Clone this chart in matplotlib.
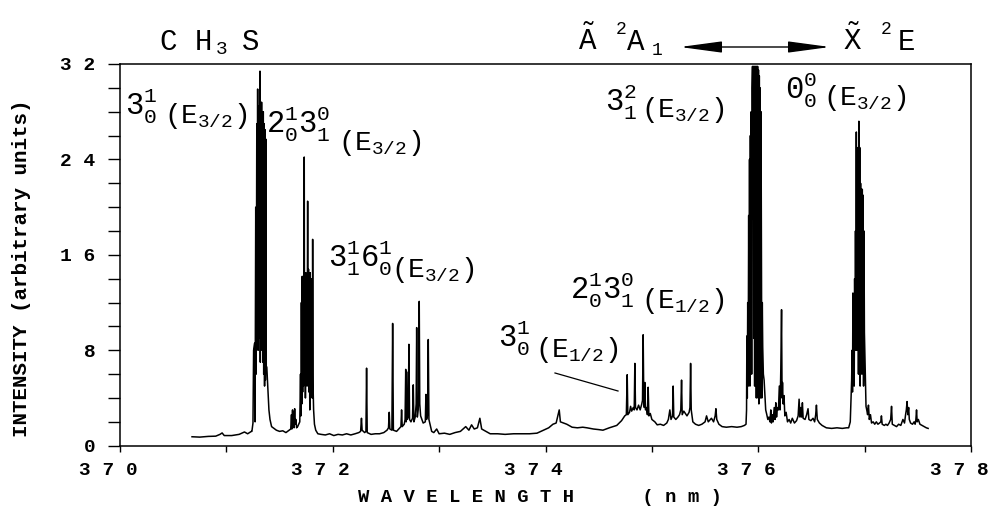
import matplotlib.pyplot as plt
from matplotlib.lines import Line2D
from matplotlib.ticker import MultipleLocator
from matplotlib.transforms import ScaledTranslation

# typewriter look of the scanned figure
plt.rcParams['font.family'] = ['Liberation Mono', 'DejaVu Sans Mono']
plt.rcParams['mathtext.fontset'] = 'custom'
plt.rcParams['mathtext.rm'] = 'Liberation Mono'
plt.rcParams['mathtext.it'] = 'Liberation Mono'
plt.rcParams['mathtext.bf'] = 'Liberation Mono:bold'

# ---- spectrum: (wavelength nm, intensity) ----
seg_start = [(370.677, 0.75), (370.75, 0.72), (370.83, 0.78), (370.90, 0.80), (370.94, 0.95),
             (370.96, 1.07), (370.98, 0.85), (371.05, 0.85), (371.12, 0.95), (371.17, 1.15),
             (371.20, 1.0), (371.235, 1.2)]

band_3_0_1_e32 = [(371.240, 1.2), (371.250, 1.9), (371.256, 8.0), (371.266, 8.6), (371.270, 2.0),
                  (371.276, 20.0), (371.280, 6.0), (371.286, 27.0), (371.290, 9.0), (371.294, 29.9),
                  (371.298, 8.0), (371.302, 28.5), (371.306, 12.0), (371.310, 27.5), (371.313, 9.0),
                  (371.316, 31.4), (371.319, 7.0), (371.323, 28.0), (371.327, 9.0), (371.331, 28.8),
                  (371.335, 8.0), (371.339, 27.0), (371.343, 7.0), (371.347, 28.0), (371.351, 6.0),
                  (371.355, 27.0), (371.359, 5.0), (371.363, 26.5), (371.367, 5.5), (371.371, 25.7),
                  (371.375, 6.6), (371.380, 6.6), (371.386, 5.5), (371.392, 4.4), (371.400, 3.0),
                  (371.410, 2.2), (371.425, 1.6)]

seg_gap1 = [(371.44, 1.5), (371.47, 1.3), (371.50, 1.2), (371.53, 1.25), (371.56, 1.1), (371.59, 1.3),
            (371.605, 1.4), (371.612, 2.6), (371.616, 1.4), (371.622, 3.0), (371.626, 1.6),
            (371.632, 2.8), (371.636, 1.5), (371.642, 3.1), (371.647, 1.8), (371.653, 2.2),
            (371.66, 1.5), (371.67, 1.6), (371.68, 1.8)]

band_2_0_1_3_1_0_e32 = [(371.690, 2.0), (371.697, 6.0), (371.701, 2.5), (371.705, 12.0), (371.709, 3.5),
                        (371.713, 14.2), (371.717, 4.5), (371.721, 13.5), (371.725, 5.0), (371.729, 14.5),
                        (371.732, 24.2), (371.735, 6.0), (371.739, 14.0), (371.743, 4.0), (371.747, 14.5),
                        (371.751, 6.0), (371.755, 13.8), (371.759, 5.0), (371.764, 20.5), (371.768, 6.0),
                        (371.772, 14.8), (371.776, 4.5), (371.780, 14.0), (371.784, 3.0), (371.788, 14.5),
                        (371.792, 4.0), (371.796, 13.5), (371.800, 5.0), (371.804, 14.0), (371.808, 4.0),
                        (371.811, 17.3), (371.815, 5.0), (371.820, 3.0), (371.828, 1.8), (371.840, 1.3),
                        (371.86, 1.0)]

seg_gap2 = [(371.89, 0.95), (371.93, 0.9), (371.97, 1.0), (372.01, 0.85), (372.05, 0.95), (372.09, 0.9),
            (372.13, 1.0), (372.17, 0.9), (372.21, 1.0), (372.245, 1.1)]

band_3_1_1_6_0_1_e32 = [(372.262, 1.2), (372.270, 2.3), (372.276, 1.3), (372.300, 1.1), (372.312, 1.2),
                        (372.318, 6.5), (372.324, 1.1), (372.36, 0.95), (372.40, 1.0), (372.44, 1.0),
                        (372.48, 1.1), (372.51, 1.3), (372.524, 1.5), (372.531, 2.8), (372.537, 1.4),
                        (372.556, 1.3), (372.563, 10.25), (372.570, 1.3), (372.60, 1.2), (372.63, 1.5),
                        (372.641, 1.6), (372.647, 3.0), (372.653, 1.6), (372.672, 1.8), (372.680, 2.2),
                        (372.686, 6.4), (372.690, 2.0), (372.694, 6.2), (372.700, 2.2), (372.710, 2.4),
                        (372.716, 8.5), (372.722, 2.2), (372.735, 2.0), (372.750, 2.3), (372.757, 5.1),
                        (372.763, 2.0), (372.775, 2.4), (372.784, 3.5), (372.789, 9.9), (372.795, 2.4),
                        (372.803, 3.0), (372.808, 4.0), (372.813, 12.1), (372.818, 3.5), (372.826, 2.5),
                        (372.838, 2.2), (372.850, 1.9), (372.870, 2.0), (372.876, 4.3), (372.882, 2.2),
                        (372.892, 2.6), (372.898, 8.9), (372.904, 2.2), (372.914, 1.8), (372.930, 1.2)]

seg_gap3 = [(372.95, 1.1), (372.977, 1.4), (373.00, 1.0), (373.05, 1.05), (373.10, 0.95), (373.15, 1.1),
            (373.20, 1.2), (373.25, 1.6), (373.28, 1.3), (373.305, 1.75), (373.33, 1.4), (373.36, 1.5),
            (373.383, 2.3), (373.40, 1.4), (373.44, 1.2), (373.48, 1.0), (373.55, 1.0), (373.62, 0.95),
            (373.70, 1.0), (373.78, 1.0), (373.85, 1.0), (373.92, 1.05), (373.98, 1.3), (374.03, 1.5),
            (374.07, 1.8), (374.10, 1.9), (374.129, 3.0), (374.14, 2.0), (374.17, 1.9), (374.20, 1.8),
            (374.25, 1.55), (374.30, 1.5), (374.35, 1.55), (374.39, 1.5), (374.45, 1.4), (374.50, 1.35),
            (374.54, 1.3), (374.60, 1.5), (374.67, 1.7), (374.715, 2.1), (374.745, 2.5)]

band_e12 = [(374.760, 2.6), (374.768, 5.95), (374.774, 2.6), (374.790, 2.8), (374.800, 3.3), (374.810, 2.9),
            (374.825, 3.2), (374.834, 3.0), (374.840, 6.9), (374.846, 3.2), (374.860, 3.0), (374.875, 3.4),
            (374.890, 3.0), (374.905, 3.5), (374.912, 3.8), (374.918, 9.3), (374.924, 3.8), (374.929, 3.2),
            (374.934, 5.3), (374.940, 3.0), (374.950, 3.2), (374.958, 2.6), (374.965, 4.9), (374.972, 2.5),
            (374.985, 2.7), (375.000, 2.2), (375.028, 2.0), (375.05, 1.75), (375.08, 1.8), (375.11, 1.7),
            (375.14, 1.9), (375.155, 2.2), (375.169, 3.0), (375.180, 2.2), (375.194, 2.5), (375.200, 5.0),
            (375.206, 2.4), (375.225, 2.2), (375.245, 2.4), (375.260, 2.6), (375.272, 3.0), (375.279, 5.5),
            (375.285, 2.6), (375.300, 2.9), (375.330, 2.5), (375.350, 2.8), (375.358, 3.2), (375.364, 6.9),
            (375.370, 3.0), (375.385, 2.0), (375.41, 1.8), (375.44, 1.7), (375.47, 1.8), (375.50, 2.0),
            (375.514, 2.5), (375.53, 2.0), (375.56, 2.3), (375.58, 2.0), (375.595, 2.5), (375.602, 3.1),
            (375.61, 2.2), (375.63, 1.8), (375.66, 1.6), (375.70, 1.55), (375.75, 1.6), (375.80, 1.55),
            (375.84, 1.6), (375.87, 1.7)]

band_3_1_2_e32 = [(375.885, 1.8), (375.890, 3.0), (375.893, 9.2), (375.897, 4.0), (375.901, 12.0),
                  (375.905, 5.0), (375.910, 19.3), (375.914, 6.0), (375.918, 24.0), (375.922, 5.0),
                  (375.926, 26.0), (375.930, 8.0), (375.934, 28.0), (375.938, 6.0), (375.942, 30.0),
                  (375.946, 31.8), (375.950, 19.0), (375.954, 31.8), (375.958, 9.0), (375.962, 31.8),
                  (375.966, 5.0), (375.970, 31.8), (375.974, 6.0), (375.978, 31.8), (375.982, 4.0),
                  (375.986, 31.8), (375.990, 5.0), (375.994, 31.8), (375.998, 4.0), (376.002, 31.5),
                  (376.006, 3.5), (376.010, 31.0), (376.014, 5.0), (376.018, 30.0), (376.022, 4.0),
                  (376.026, 28.0), (376.030, 15.6), (376.034, 4.0), (376.038, 12.0), (376.042, 8.3),
                  (376.048, 6.0), (376.055, 5.5), (376.062, 4.4), (376.070, 3.0), (376.078, 2.7),
                  (376.090, 2.2), (376.100, 2.4)]

seg_gap4 = [(376.110, 2.0), (376.118, 3.0), (376.124, 1.9), (376.132, 2.6), (376.140, 2.0), (376.150, 3.2),
            (376.158, 2.2), (376.165, 3.6), (376.172, 2.4), (376.180, 3.2), (376.190, 3.0), (376.198, 5.0),
            (376.205, 3.0), (376.212, 6.4), (376.219, 11.4), (376.224, 4.0), (376.228, 5.3), (376.234, 3.5),
            (376.242, 4.2), (376.250, 2.5), (376.262, 2.8), (376.275, 2.0), (376.290, 2.2), (376.305, 1.9),
            (376.320, 2.3), (376.340, 1.9), (376.360, 2.1), (376.375, 2.5), (376.384, 3.9), (376.392, 2.4),
            (376.400, 3.2), (376.408, 2.4), (376.415, 3.6), (376.422, 2.3), (376.440, 2.2), (376.455, 2.6),
            (376.468, 3.1), (376.476, 2.2), (376.495, 2.1), (376.515, 2.3), (376.530, 2.0), (376.540, 2.6),
            (376.547, 3.4), (376.555, 2.2), (376.575, 1.9), (376.600, 1.7), (376.640, 1.5), (376.690, 1.45),
            (376.740, 1.5), (376.790, 1.45), (376.830, 1.5)]

band_0_0_0_e32 = [(376.850, 1.5), (376.865, 2.0), (376.872, 4.0), (376.878, 5.5), (376.882, 8.0),
                  (376.886, 4.5), (376.890, 12.8), (376.894, 6.0), (376.898, 12.5), (376.902, 5.0),
                  (376.906, 14.0), (376.910, 8.0), (376.914, 18.0), (376.918, 9.0), (376.922, 26.3),
                  (376.926, 8.0), (376.930, 24.0), (376.934, 10.0), (376.938, 25.0), (376.942, 6.0),
                  (376.946, 27.2), (376.950, 9.0), (376.954, 25.0), (376.958, 5.0), (376.962, 22.0),
                  (376.966, 7.0), (376.970, 21.5), (376.974, 6.0), (376.978, 21.5), (376.982, 8.0),
                  (376.986, 21.0), (376.990, 5.0), (376.994, 18.0), (376.998, 9.5), (377.002, 7.8),
                  (377.008, 5.0), (377.013, 3.3), (377.020, 3.0)]

seg_end = [(377.028, 2.6), (377.036, 3.4), (377.044, 2.2), (377.055, 2.6), (377.065, 1.9), (377.080, 2.0),
           (377.095, 1.8), (377.110, 2.0), (377.125, 1.8), (377.140, 1.9), (377.152, 2.0), (377.158, 2.5),
           (377.165, 1.8), (377.185, 1.7), (377.200, 1.8), (377.215, 1.7), (377.230, 1.9), (377.245, 2.2),
           (377.253, 3.3), (377.260, 1.8), (377.280, 1.7), (377.300, 1.6), (377.320, 1.8), (377.340, 1.7),
           (377.360, 2.2), (377.375, 1.9), (377.385, 2.6), (377.392, 3.0), (377.399, 3.7), (377.406, 2.6),
           (377.414, 3.2), (377.420, 2.2), (377.432, 1.9), (377.450, 1.8), (377.465, 2.0), (377.475, 1.8),
           (377.482, 2.2), (377.488, 3.0), (377.494, 2.0), (377.505, 2.2), (377.520, 1.8), (377.540, 1.7),
           (377.560, 1.6), (377.580, 1.5), (377.597, 1.45)]

# axis ticks
xtick_values = [370, 371, 372, 373, 374, 375, 376, 377, 378]
xtick_labels = ['3 7 0', '', '3 7 2', '', '3 7 4', '', '3 7 6', '', '3 7 8']
ytick_values = [0, 8, 16, 24, 32]
ytick_labels = ['0', '8', '1 6', '2 4', '3 2']

# band assignments: vibronic code and spin-orbit component
label_codes = [r'$3^1_0$', r'$2^1_0 3^0_1$', r'$3^1_1 6^1_0$', r'$2^1_0 3^0_1$', r'$3^1_0$',
               r'$3^2_1$', r'$0^0_0$']
label_states = [r'$(E_{3/2})$', r'$(E_{3/2})$', r'$(E_{3/2})$', r'$(E_{1/2})$', r'$(E_{1/2})$',
                r'$(E_{3/2})$', r'$(E_{3/2})$']

spectrum = (seg_start + band_3_0_1_e32 + seg_gap1 + band_2_0_1_3_1_0_e32 + seg_gap2
            + band_3_1_1_6_0_1_e32 + seg_gap3 + band_e12 + band_3_1_2_e32 + seg_gap4
            + band_0_0_0_e32 + seg_end)
wavelength = [p[0] for p in spectrum]
intensity = [p[1] for p in spectrum]

W, H = 995, 507
fig = plt.figure(figsize=(W / 100, H / 100), dpi=100)
ax = fig.add_axes([120 / W, (H - 445.7) / H, (971 - 120) / W, (445.7 - 64) / H])

ax.plot(wavelength, intensity, color='black', lw=1.1)
ax.set_xlim(370, 378)
ax.set_ylim(0, 32)

ax.set_xticks(xtick_values, xtick_labels)
ax.set_yticks(ytick_values, ytick_labels)
ax.yaxis.set_minor_locator(MultipleLocator(2))
ax.tick_params(axis='x', which='both', direction='out', length=4, width=1.0,
               labelsize=14, pad=8)
ax.tick_params(axis='y', which='both', direction='out', length=8.5, width=1.0,
               labelsize=14, pad=9)
# the typed labels sit a little left of their ticks
shift = ScaledTranslation(-0.12, 0, fig.dpi_scale_trans)
for lbl in ax.get_xticklabels():
    lbl.set_fontweight('bold')
    lbl.set_transform(lbl.get_transform() + shift)
for lbl in ax.get_yticklabels():
    lbl.set_fontweight('bold')
for sp in ax.spines.values():
    sp.set_linewidth(1.1)


def px(x, y):
    return x / W, 1 - y / H


fig.text(*px(22, 268), 'INTENSITY (arbitrary units)', rotation=90, ha='center', va='center',
         fontsize=15, fontweight='bold')
fig.text(*px(540, 497), 'W A V E L E N G T H      ( n m )', ha='center', va='center',
         fontsize=13.6, fontweight='bold')

# header: molecule and electronic transition, typed piece by piece
fig.text(*px(159, 50), 'C', fontsize=21, ha='left', va='baseline')
fig.text(*px(195, 50), 'H', fontsize=21, ha='left', va='baseline')
fig.text(*px(216, 54), '3', fontsize=14, ha='left', va='baseline')
fig.text(*px(242, 50), 'S', fontsize=21, ha='left', va='baseline')
fig.text(*px(578, 50), r'$\tilde{A}$', fontsize=21, ha='left', va='baseline')
fig.text(*px(616, 34), '2', fontsize=13, ha='left', va='baseline')
fig.text(*px(627, 50), 'A', fontsize=21, ha='left', va='baseline')
fig.text(*px(652, 55), '1', fontsize=13, ha='left', va='baseline')
fig.text(*px(843, 50), r'$\tilde{X}$', fontsize=21, ha='left', va='baseline')
fig.text(*px(881, 34), '2', fontsize=13, ha='left', va='baseline')
fig.text(*px(898, 50), 'E', fontsize=21, ha='left', va='baseline')
ax.annotate('', xy=(830, H - 47), xytext=(680, H - 47), xycoords='figure pixels',
            textcoords='figure pixels',
            arrowprops=dict(arrowstyle='<|-|>,head_length=2.6,head_width=0.35',
                            color='black', lw=1.0, shrinkA=0, shrinkB=0))

# band labels: (code left, code baseline, state left, state baseline) in pixels
label_pos = [(125, 115, 164, 123), (266, 133, 338, 150), (328, 267, 391, 277),
             (570, 300, 641, 308), (498, 347, 535, 357), (605, 112, 641, 117),
             (785, 100, 823, 105)]
for code, state, (cx, cy, sx, sy) in zip(label_codes, label_states, label_pos):
    fig.text(*px(cx, cy), code, fontsize=22, ha='left', va='baseline')
    fig.text(*px(sx, sy), state, fontsize=20, ha='left', va='baseline')

# leader line to the E1/2 band
fig.add_artist(Line2D([555 / W, 618 / W], [1 - 373 / H, 1 - 391 / H], color='black', lw=0.9))

fig.savefig('out.png', dpi=100)
